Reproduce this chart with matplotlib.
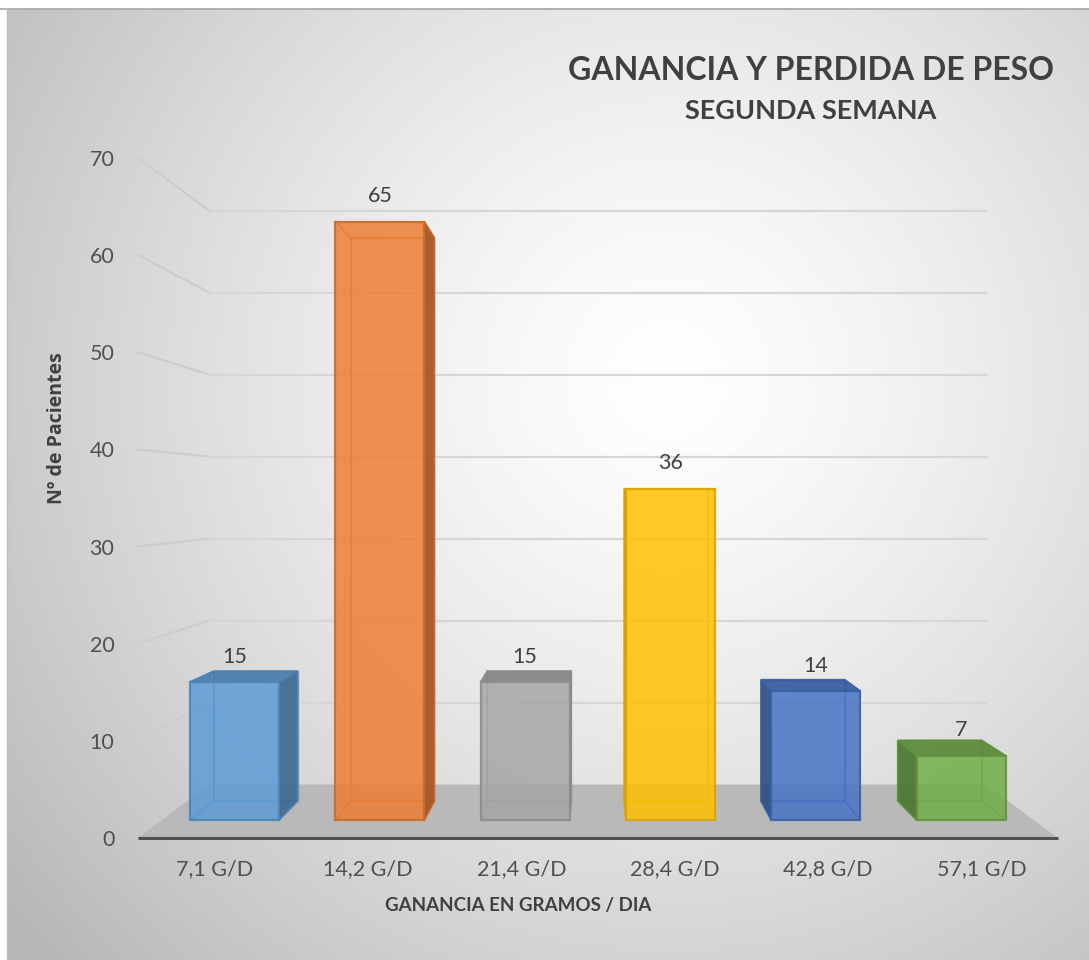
import numpy as np
import matplotlib
matplotlib.use("Agg")
import matplotlib.pyplot as plt
from matplotlib.patches import Polygon
from matplotlib.colors import to_rgb

# ---------------- data ----------------
categories = ["7,1 G/D", "14,2 G/D", "21,4 G/D", "28,4 G/D", "42,8 G/D", "57,1 G/D"]
values = [15, 65, 15, 36, 14, 7]
bar_colors = ["#5B9BD5", "#ED7D31", "#A5A5A5", "#FFC000", "#4472C4", "#70AD47"]
y_ticks = [0, 10, 20, 30, 40, 50, 60, 70]
title = "GANANCIA Y PERDIDA DE PESO"
subtitle = "SEGUNDA SEMANA"
xlabel = "GANANCIA EN GRAMOS / DIA"
ylabel = "Nº de Pacientes"

plt.rcParams['font.family'] = ['Lato', 'DejaVu Sans']

W, H = 1089, 960
fig = plt.figure(figsize=(W / 100, H / 100), dpi=100)
fig.patch.set_facecolor('white')

# ---------------- radial gradient background ----------------
bg = fig.add_axes([7 / W, 0, 1 - 7 / W, 1 - 9 / H])
bh, bw = 951, 1082
yy, xx = np.mgrid[0:bh, 0:bw]
cxp, cyp = 660.0, 370.0
t = np.sqrt(((xx - cxp) / 680.0) ** 2 + ((yy - cyp) / 680.0) ** 2)
t = np.clip(t, 0, 1.25)
g = 1.0 - 0.21 * t ** 1.35
img = np.dstack([g, g, g])
bg.imshow(img, aspect='auto', extent=[0, 1, 0, 1], interpolation='bilinear')
bg.set_xlim(0, 1)
bg.set_ylim(0, 1)
bg.axis('off')
fig.add_artist(plt.Line2D([0, 1], [1 - 8.5 / H, 1 - 8.5 / H], color='#a6a6a6', lw=1.2))
fig.add_artist(plt.Line2D([7 / W, 7 / W], [0, 1 - 8.5 / H], color='#bdbdbd', lw=1.0))

# ---------------- main axes (front plane) ----------------
ax = fig.add_axes([138 / W, 1 - 838 / H, 920 / W, 680 / H])
ax.set_facecolor('none')
ax.set_xlim(-0.5, 5.5)
ax.set_ylim(0, 70)
for sp in ax.spines.values():
    sp.set_visible(False)

# perspective parameters (vanishing point in data units, depth scale factors)
VX, VY = 2.48, 35.3
S_WALL = 0.844
S_BAR_F = 0.9475
S_BAR_B = 0.892
BAR_W = 0.613
LABEL_OFF = 2.75
XMIN, XMAX = -0.5, 5.5


def P(x, v, s):
    return (VX + (x - VX) * s, VY + (v - VY) * s)


def darker(c, f):
    r, gg, b = to_rgb(c)
    return (r * f, gg * f, b * f)


# floor
floor = [P(XMIN, 0, 1), P(XMAX, 0, 1), P(XMAX, 0, S_WALL), P(XMIN, 0, S_WALL)]
ax.add_patch(Polygon(floor, closed=True, fc='#b9b9b9', ec='none', zorder=1, clip_on=False))
fx = [P(XMIN, 0, 1)[0], P(XMAX, 0, 1)[0]]
ax.plot(fx, [0, 0], color='#505050', lw=2.2, zorder=2, clip_on=False, solid_capstyle='butt')

# gridlines: left wall + back wall
for tv in y_ticks[1:]:
    a = P(XMIN, tv, 1)
    b = P(XMIN, tv, S_WALL)
    c = P(XMAX, tv, S_WALL)
    ax.plot([a[0], b[0]], [a[1], b[1]], color='#cdcdcd', lw=1.6,
            zorder=1, clip_on=False)
    ax.plot([b[0], c[0]], [b[1], c[1]], color='#d6d6d6', lw=1.6,
            zorder=1, clip_on=False)

# bars
for i, (v, col) in enumerate(zip(values, bar_colors)):
    x0, x1 = i - BAR_W / 2, i + BAR_W / 2
    sf, sb = S_BAR_F, S_BAR_B
    front = [P(x0, 0, sf), P(x1, 0, sf), P(x1, v, sf), P(x0, v, sf)]
    back = [P(x0, 0, sb), P(x1, 0, sb), P(x1, v, sb), P(x0, v, sb)]
    top = [P(x0, v, sf), P(x1, v, sf), P(x1, v, sb), P(x0, v, sb)]
    bottom = [P(x0, 0, sf), P(x1, 0, sf), P(x1, 0, sb), P(x0, 0, sb)]
    left = [P(x0, 0, sf), P(x0, v, sf), P(x0, v, sb), P(x0, 0, sb)]
    right = [P(x1, 0, sf), P(x1, v, sf), P(x1, v, sb), P(x1, 0, sb)]
    edge = darker(col, 0.85)
    if x1 < VX:
        vis_side, hid_side = right, left
    else:
        vis_side, hid_side = left, right
    top_visible = v < VY
    hidden = [back, bottom, hid_side] + ([] if top_visible else [top])
    for poly in hidden:
        ax.add_patch(Polygon(poly, closed=True, fill=False, ec=edge, lw=1.0,
                             alpha=0.6, zorder=3))
    ax.add_patch(Polygon(vis_side, closed=True, fc=darker(col, 0.68), ec=edge,
                         lw=1.2, alpha=0.92, zorder=4))
    if top_visible:
        ax.add_patch(Polygon(top, closed=True, fc=darker(col, 0.8), ec=edge,
                             lw=1.2, alpha=0.92, zorder=4))
    ax.add_patch(Polygon(front, closed=True, fc=col, ec=edge, lw=1.6,
                         alpha=0.84, zorder=5))
    lx, ly = P(i, v + LABEL_OFF, sf)
    ax.text(lx, ly, str(v), ha='center', va='center', fontsize=15.5,
            color='#404040', zorder=6)

# ticks
ax.set_yticks(y_ticks)
ax.set_yticklabels([str(t_) for t_ in y_ticks])
ax.set_xticks(range(len(categories)))
ax.set_xticklabels(categories)
ax.tick_params(axis='y', length=0, pad=17, labelsize=15.5, labelcolor='#505050')
ax.tick_params(axis='x', length=0, pad=15, labelsize=15.5, labelcolor='#505050')

# titles and axis labels
fig.text(811 / W, 1 - 70 / H, title, ha='center', va='center', fontsize=23,
         fontweight='bold', color='#404040')
fig.text(811 / W, 1 - 111 / H, subtitle, ha='center', va='center', fontsize=19.5,
         fontweight='bold', color='#404040')
fig.text(518 / W, 1 - 906 / H, xlabel, ha='center', va='center', fontsize=13.5,
         fontweight='bold', color='#404040')
fig.text(57 / W, 1 - 428 / H, ylabel, ha='center', va='center', fontsize=14,
         fontweight='bold', color='#404040', rotation=90,
         family=['Open Sans', 'DejaVu Sans'])

fig.savefig('out.png', dpi=100)
